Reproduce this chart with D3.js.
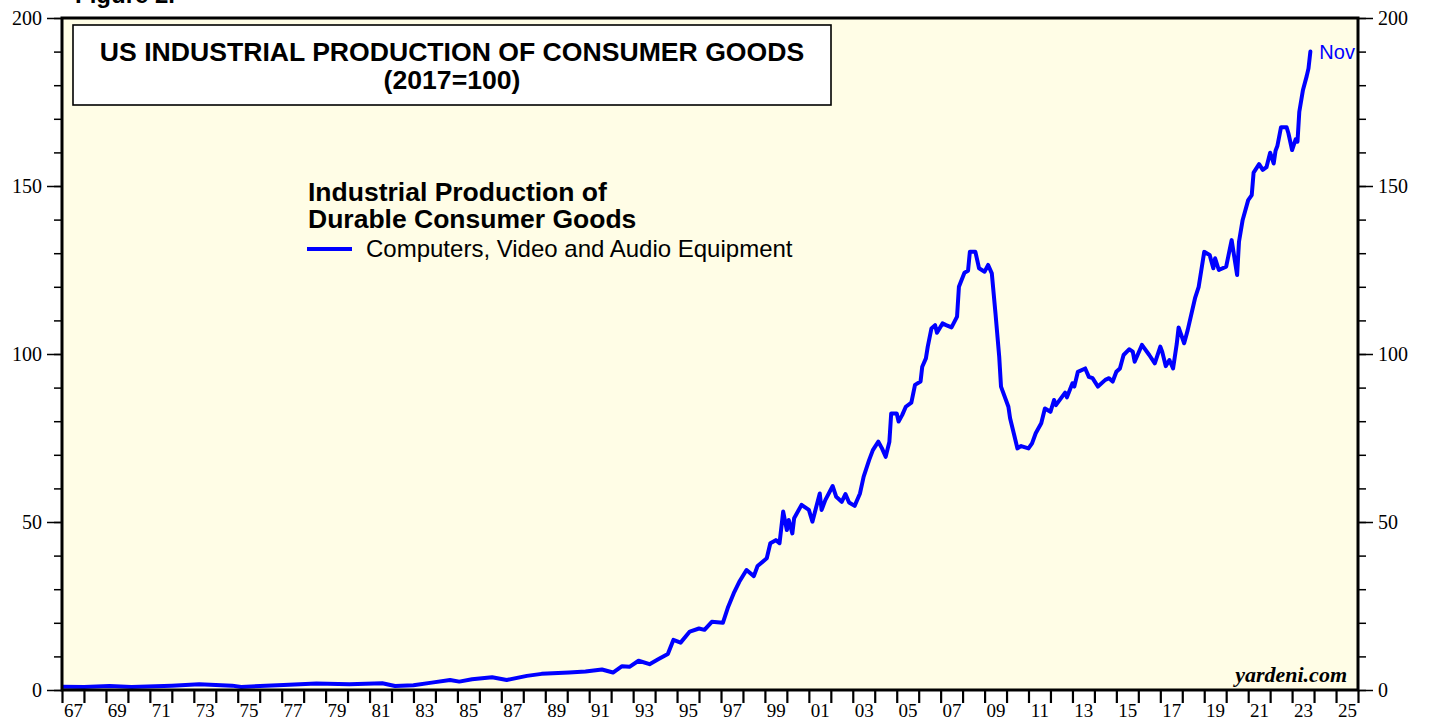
<!DOCTYPE html>
<html>
<head>
<meta charset="utf-8">
<script src="https://cdn.jsdelivr.net/npm/d3@7"></script>
<style>
  body { margin: 0; background: #fff; }
  svg { display: block; }
</style>
</head>
<body>
<svg id="chart"></svg>
<script>
// monthly readings (YYYY-MM) of the series, 2017=100
const dates = [
  "1967-01","1968-01","1969-03","1970-03","1972-01","1973-04","1974-10","1975-03","1977-02","1978-08",
  "1980-02","1981-08","1982-03","1983-01","1983-11","1984-09","1985-02","1985-09","1986-08","1987-04",
  "1988-03","1988-11","1990-02","1990-11","1991-08","1992-02","1992-07","1992-11","1993-04","1993-10",
  "1994-03","1994-08","1994-11","1995-03","1995-08","1996-01","1996-04","1996-08","1997-02","1997-05",
  "1997-08","1997-11","1998-03","1998-07","1998-09","1999-02","1999-04","1999-07","1999-09","1999-11",
  "2000-01","2000-02","2000-04","2000-05","2000-09","2001-01","2001-03","2001-07","2001-08","2001-10",
  "2002-02","2002-04","2002-07","2002-09","2002-11","2003-02","2003-05","2003-07","2003-10","2003-12",
  "2004-03","2004-05","2004-07","2004-09","2004-10","2005-01","2005-02","2005-04","2005-06","2005-09",
  "2005-11","2006-02","2006-03","2006-05","2006-06","2006-08","2006-10","2006-11","2007-02","2007-04",
  "2007-07","2007-10","2007-11","2008-02","2008-04","2008-05","2008-08","2008-10","2009-01","2009-03",
  "2009-05","2009-07","2009-09","2009-10","2010-02","2010-03","2010-05","2010-07","2010-09","2011-01",
  "2011-03","2011-05","2011-08","2011-10","2012-01","2012-03","2012-04","2012-09","2012-10","2013-01",
  "2013-02","2013-04","2013-08","2013-10","2013-12","2014-03","2014-07","2014-09","2014-11","2015-01",
  "2015-03","2015-05","2015-08","2015-10","2015-11","2016-03","2016-07","2016-10","2017-01","2017-02",
  "2017-04","2017-06","2017-08","2017-10","2017-11","2018-02","2018-04","2018-08","2018-10","2019-01",
  "2019-04","2019-06","2019-07","2019-09","2020-01","2020-04","2020-07","2020-08","2020-10","2021-01",
  "2021-03","2021-04","2021-07","2021-09","2021-11","2022-01","2022-03","2022-04","2022-05","2022-07",
  "2022-10","2022-11","2023-01","2023-03","2023-04","2023-05","2023-07","2023-09","2023-10","2023-11"
];
const values = [
  1.0, 0.9, 1.2, 0.9, 1.3, 1.7, 1.3, 0.9, 1.5, 1.9,
  1.7, 2.0, 1.2, 1.4, 2.2, 3.0, 2.5, 3.2, 3.8, 3.0,
  4.2, 4.8, 5.2, 5.5, 6.1, 5.2, 7.1, 6.9, 8.7, 7.7,
  9.2, 10.7, 14.9, 14.1, 17.4, 18.3, 17.9, 20.3, 20.0, 24.8,
  28.8, 32.2, 35.7, 33.9, 36.9, 39.2, 43.7, 44.6, 43.7, 53.1,
  47.6, 50.6, 46.6, 51.1, 55.1, 53.6, 50.1, 58.5, 53.6, 56.5,
  60.7, 57.5, 56.0, 58.3, 55.8, 54.8, 58.5, 63.5, 68.5, 71.4,
  73.9, 71.9, 69.4, 73.9, 82.3, 82.3, 79.9, 81.8, 84.3, 85.5,
  90.8, 91.8, 96.2, 98.7, 102.2, 107.6, 108.6, 106.3, 109.1, 108.6,
  107.9, 111.1, 120.0, 124.2, 124.8, 130.4, 130.4, 125.5, 124.5, 126.5,
  124.0, 112.1, 99.2, 90.3, 84.3, 80.9, 76.4, 71.9, 72.6, 71.9,
  73.4, 76.4, 79.4, 83.8, 82.8, 86.3, 84.8, 88.5, 87.1, 91.3,
  90.3, 94.7, 95.7, 93.2, 92.8, 90.3, 92.3, 92.8, 91.8, 94.7,
  95.7, 99.7, 101.4, 100.7, 97.7, 102.7, 99.7, 97.2, 102.2, 100.7,
  96.4, 98.2, 95.7, 103.0, 107.9, 103.2, 107.1, 116.6, 120.0, 130.4,
  129.5, 125.5, 128.5, 125.0, 126.0, 133.9, 123.5, 133.4, 139.9, 145.8,
  147.3, 154.0, 156.5, 154.8, 155.6, 159.9, 156.7, 160.5, 161.9, 167.5,
  167.5, 165.7, 160.7, 163.9, 163.2, 172.1, 178.6, 182.7, 185.0, 190.0
];

const yMajorTicks = [0, 50, 100, 150, 200];
const titleLines = ["US INDUSTRIAL PRODUCTION OF CONSUMER GOODS", "(2017=100)"];
const legendHeading = ["Industrial Production of", "Durable Consumer Goods"];
const seriesName = "Computers, Video and Audio Equipment";
const lastLabel = "Nov";

const width = 1429, height = 721;
const m = { left: 62, right: 1358, top: 18, bottom: 690 };

const svg = d3.select("#chart").attr("width", width).attr("height", height);

const parse = d3.timeParse("%Y-%m");
const data = dates.map((d, i) => ({ date: parse(d), value: values[i] }));

const x = d3.scaleTime()
    .domain([new Date(1967, 0, 1), new Date(2026, 0, 1)])
    .range([m.left, m.right]);
const y = d3.scaleLinear().domain([0, 200]).range([m.bottom, m.top]);

// plot background
svg.append("rect")
    .attr("x", m.left).attr("y", m.top)
    .attr("width", m.right - m.left).attr("height", m.bottom - m.top)
    .attr("fill", "#fffde6");

// "Figure 2." mostly cut off at the top
svg.append("text")
    .attr("x", 75).attr("y", 3)
    .attr("font-family", "Liberation Sans, Arial, sans-serif")
    .attr("font-weight", "bold").attr("font-size", 24)
    .text("Figure 2.");

const serif = "Liberation Serif, Times New Roman, serif";

// y axes: minor ticks every 10, major every 50
function yAxes(axisFn, xPos) {
    svg.append("g")
        .attr("transform", `translate(${xPos},0)`)
        .call(axisFn(y).tickValues(d3.range(0, 201, 10)).tickSize(8).tickFormat(""))
        .call(g => g.select(".domain").remove())
        .call(g => g.selectAll("line").attr("stroke-width", 1.5));
    svg.append("g")
        .attr("transform", `translate(${xPos},0)`)
        .call(axisFn(y).tickValues(yMajorTicks).tickSize(15).tickPadding(5))
        .call(g => g.select(".domain").remove())
        .call(g => g.selectAll("line").attr("stroke-width", 1.5))
        .call(g => g.selectAll("text")
            .attr("font-family", serif).attr("font-size", 20)
            .attr("fill", "#000").attr("dy", "0.34em"));
}
yAxes(d3.axisLeft, m.left);
yAxes(d3.axisRight, m.right);

// x axis: a tick at every year boundary, labels for odd years centred mid-year
svg.append("g")
    .attr("transform", `translate(0,${m.bottom})`)
    .call(d3.axisBottom(x).ticks(d3.timeYear.every(1)).tickSize(13).tickFormat(""))
    .call(g => g.select(".domain").remove())
    .call(g => g.selectAll("line").attr("stroke-width", 2.2));

const labelYears = d3.range(1967, 2026, 2).map(yr => new Date(yr, 6, 1));
svg.append("g")
    .attr("transform", `translate(0,${m.bottom})`)
    .call(d3.axisBottom(x).tickValues(labelYears).tickSize(0).tickFormat(d3.timeFormat("%y")))
    .call(g => g.select(".domain").remove())
    .call(g => g.selectAll("text")
        .attr("font-family", serif).attr("font-size", 19)
        .attr("fill", "#000").attr("y", 27).attr("dy", 0));

// the series line
svg.append("clipPath").attr("id", "clip")
    .append("rect").attr("x", m.left).attr("y", m.top)
    .attr("width", m.right - m.left).attr("height", m.bottom - m.top);

const line = d3.line()
    .x(d => x(d.date))
    .y(d => y(d.value));

svg.append("path")
    .datum(data)
    .attr("clip-path", "url(#clip)")
    .attr("fill", "none")
    .attr("stroke", "#0000ff")
    .attr("stroke-width", 4)
    .attr("stroke-linejoin", "round")
    .attr("stroke-linecap", "round")
    .attr("d", line);

const last = data[data.length - 1];
svg.append("text")
    .attr("x", x(last.date) + 9).attr("y", y(last.value) + 7)
    .attr("font-family", "Liberation Sans, Arial, sans-serif")
    .attr("font-size", 20).attr("fill", "#0000ff")
    .text(lastLabel);

// frame
svg.append("rect")
    .attr("x", m.left).attr("y", m.top)
    .attr("width", m.right - m.left).attr("height", m.bottom - m.top)
    .attr("fill", "none").attr("stroke", "#000").attr("stroke-width", 3);

// title box
svg.append("rect")
    .attr("x", 73).attr("y", 25).attr("width", 758).attr("height", 80)
    .attr("fill", "#fff").attr("stroke", "#000").attr("stroke-width", 1.6);

svg.selectAll(".title")
    .data(titleLines)
    .enter().append("text")
    .attr("class", "title")
    .attr("x", 452)
    .attr("y", (d, i) => 61 + i * 28)
    .attr("text-anchor", "middle")
    .attr("font-family", "Liberation Sans, Arial, sans-serif")
    .attr("font-weight", "bold").attr("font-size", 26.6)
    .text(d => d);

// legend
svg.selectAll(".heading")
    .data(legendHeading)
    .enter().append("text")
    .attr("class", "heading")
    .attr("x", 308)
    .attr("y", (d, i) => 201 + i * 27)
    .attr("font-family", "Liberation Sans, Arial, sans-serif")
    .attr("font-weight", "bold").attr("font-size", 26.5)
    .text(d => d);

svg.append("line")
    .attr("x1", 307).attr("x2", 352).attr("y1", 249).attr("y2", 249)
    .attr("stroke", "#0000ff").attr("stroke-width", 4);

svg.append("text")
    .attr("x", 366).attr("y", 257)
    .attr("font-family", "Liberation Sans, Arial, sans-serif")
    .attr("font-size", 24)
    .text(seriesName);

svg.append("text")
    .attr("x", 1347).attr("y", 682)
    .attr("text-anchor", "end")
    .attr("font-family", serif)
    .attr("font-weight", "bold").attr("font-style", "italic")
    .attr("font-size", 22)
    .text("yardeni.com");
</script>
</body>
</html>
